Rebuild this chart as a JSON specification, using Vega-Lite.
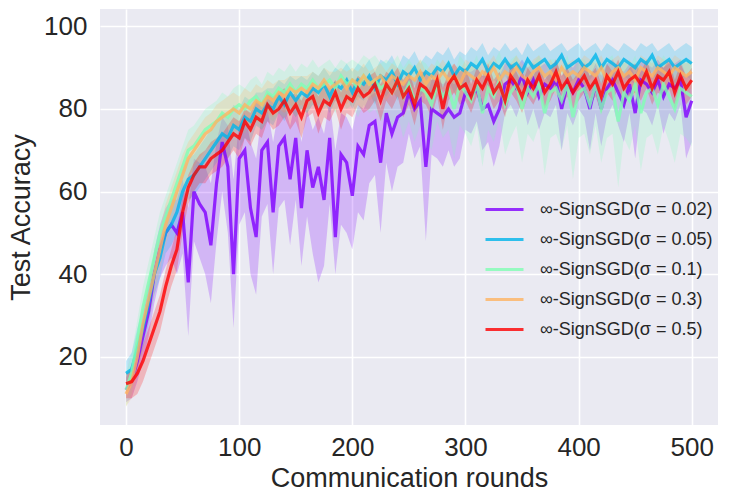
{
  "$schema": "https://vega.github.io/schema/vega-lite/v6.json",
  "autosize": {"type": "none"},
  "width": 618,
  "height": 416,
  "padding": {"left": 100, "top": 9, "right": 18, "bottom": 77},
  "background": "white",
  "config": {
    "view": {"fill": "#EAEAF2", "stroke": null},
    "font": "Liberation Sans",
    "axis": {
      "grid": true,
      "gridColor": "white",
      "gridWidth": 1.6,
      "domain": false,
      "ticks": false,
      "labelFontSize": 26,
      "labelColor": "#262626",
      "titleFontSize": 27,
      "titleFontWeight": "normal",
      "titleColor": "#262626"
    }
  },
  "data": {
    "values": [
      {"s":"0.02","r":0,"y":12,"l":9,"h":15},{"s":"0.02","r":5,"y":14,"l":10,"h":18},{"s":"0.02","r":10,"y":19,"l":14,"h":24},{"s":"0.02","r":15,"y":25,"l":19,"h":30},{"s":"0.02","r":20,"y":31,"l":25,"h":37},{"s":"0.02","r":25,"y":40,"l":33,"h":46},{"s":"0.02","r":30,"y":46,"l":39,"h":52},{"s":"0.02","r":35,"y":50,"l":42,"h":56},{"s":"0.02","r":40,"y":52,"l":44,"h":58},{"s":"0.02","r":45,"y":50,"l":40,"h":58},
      {"s":"0.02","r":50,"y":55,"l":45,"h":63},{"s":"0.02","r":55,"y":38,"l":25,"h":56},{"s":"0.02","r":60,"y":60,"l":48,"h":68},{"s":"0.02","r":65,"y":57,"l":44,"h":67},{"s":"0.02","r":70,"y":55,"l":40,"h":66},{"s":"0.02","r":75,"y":47,"l":33,"h":62},{"s":"0.02","r":80,"y":62,"l":48,"h":72},{"s":"0.02","r":85,"y":72,"l":60,"h":78},{"s":"0.02","r":90,"y":66,"l":50,"h":76},{"s":"0.02","r":95,"y":40,"l":27,"h":63},
      {"s":"0.02","r":100,"y":68,"l":52,"h":77},{"s":"0.02","r":105,"y":70,"l":55,"h":79},{"s":"0.02","r":110,"y":56,"l":40,"h":72},{"s":"0.02","r":115,"y":49,"l":35,"h":68},{"s":"0.02","r":120,"y":70,"l":54,"h":79},{"s":"0.02","r":125,"y":72,"l":57,"h":80},{"s":"0.02","r":130,"y":55,"l":40,"h":72},{"s":"0.02","r":135,"y":71,"l":56,"h":80},{"s":"0.02","r":140,"y":73,"l":58,"h":81},{"s":"0.02","r":145,"y":63,"l":47,"h":76},
      {"s":"0.02","r":150,"y":73,"l":58,"h":82},{"s":"0.02","r":155,"y":56,"l":42,"h":72},{"s":"0.02","r":160,"y":70,"l":54,"h":80},{"s":"0.02","r":165,"y":61,"l":45,"h":75},{"s":"0.02","r":170,"y":66,"l":38,"h":78},{"s":"0.02","r":175,"y":58,"l":42,"h":74},{"s":"0.02","r":180,"y":73,"l":57,"h":82},{"s":"0.02","r":185,"y":49,"l":40,"h":70},{"s":"0.02","r":190,"y":69,"l":52,"h":79},{"s":"0.02","r":195,"y":67,"l":50,"h":78},
      {"s":"0.02","r":200,"y":59,"l":46,"h":75},{"s":"0.02","r":205,"y":71,"l":55,"h":81},{"s":"0.02","r":210,"y":69,"l":53,"h":80},{"s":"0.02","r":215,"y":76,"l":62,"h":83},{"s":"0.02","r":220,"y":77,"l":64,"h":84},{"s":"0.02","r":225,"y":67,"l":50,"h":80},{"s":"0.02","r":230,"y":79,"l":67,"h":85},{"s":"0.02","r":235,"y":74,"l":60,"h":83},{"s":"0.02","r":240,"y":78,"l":66,"h":85},{"s":"0.02","r":245,"y":79,"l":67,"h":86},
      {"s":"0.02","r":250,"y":84,"l":74,"h":88},{"s":"0.02","r":255,"y":80,"l":68,"h":87},{"s":"0.02","r":260,"y":82,"l":71,"h":88},{"s":"0.02","r":265,"y":66,"l":48,"h":82},{"s":"0.02","r":270,"y":80,"l":69,"h":87},{"s":"0.02","r":275,"y":79,"l":68,"h":87},{"s":"0.02","r":280,"y":78,"l":66,"h":86},{"s":"0.02","r":285,"y":80,"l":70,"h":87},{"s":"0.02","r":290,"y":78,"l":66,"h":86},{"s":"0.02","r":295,"y":79,"l":68,"h":87},
      {"s":"0.02","r":300,"y":84,"l":75,"h":89},{"s":"0.02","r":305,"y":83,"l":74,"h":89},{"s":"0.02","r":310,"y":85,"l":77,"h":90},{"s":"0.02","r":315,"y":80,"l":70,"h":88},{"s":"0.02","r":320,"y":81,"l":72,"h":88},{"s":"0.02","r":325,"y":77,"l":66,"h":86},{"s":"0.02","r":330,"y":80,"l":71,"h":88},{"s":"0.02","r":335,"y":86,"l":79,"h":91},{"s":"0.02","r":340,"y":87,"l":81,"h":91},{"s":"0.02","r":345,"y":85,"l":78,"h":90},
      {"s":"0.02","r":350,"y":88,"l":82,"h":92},{"s":"0.02","r":355,"y":84,"l":76,"h":90},{"s":"0.02","r":360,"y":87,"l":80,"h":91},{"s":"0.02","r":365,"y":83,"l":75,"h":90},{"s":"0.02","r":370,"y":86,"l":79,"h":91},{"s":"0.02","r":375,"y":85,"l":78,"h":90},{"s":"0.02","r":380,"y":87,"l":81,"h":92},{"s":"0.02","r":385,"y":80,"l":70,"h":88},{"s":"0.02","r":390,"y":86,"l":79,"h":91},{"s":"0.02","r":395,"y":84,"l":76,"h":90},
      {"s":"0.02","r":400,"y":87,"l":80,"h":92},{"s":"0.02","r":405,"y":85,"l":78,"h":91},{"s":"0.02","r":410,"y":80,"l":70,"h":88},{"s":"0.02","r":415,"y":86,"l":79,"h":91},{"s":"0.02","r":420,"y":80,"l":71,"h":88},{"s":"0.02","r":425,"y":85,"l":78,"h":91},{"s":"0.02","r":430,"y":87,"l":81,"h":92},{"s":"0.02","r":435,"y":84,"l":76,"h":90},{"s":"0.02","r":440,"y":81,"l":72,"h":89},{"s":"0.02","r":445,"y":86,"l":79,"h":91},
      {"s":"0.02","r":450,"y":79,"l":68,"h":88},{"s":"0.02","r":455,"y":87,"l":80,"h":92},{"s":"0.02","r":460,"y":86,"l":79,"h":91},{"s":"0.02","r":465,"y":84,"l":76,"h":90},{"s":"0.02","r":470,"y":87,"l":81,"h":92},{"s":"0.02","r":475,"y":83,"l":74,"h":90},{"s":"0.02","r":480,"y":86,"l":79,"h":91},{"s":"0.02","r":485,"y":85,"l":77,"h":91},{"s":"0.02","r":490,"y":87,"l":81,"h":92},{"s":"0.02","r":495,"y":78,"l":68,"h":88},{"s":"0.02","r":500,"y":82,"l":72,"h":89},

      {"s":"0.05","r":0,"y":16,"l":13,"h":19},{"s":"0.05","r":5,"y":17,"l":13,"h":21},{"s":"0.05","r":10,"y":22,"l":17,"h":27},{"s":"0.05","r":15,"y":27,"l":22,"h":32},{"s":"0.05","r":20,"y":33,"l":28,"h":38},{"s":"0.05","r":25,"y":40,"l":35,"h":45},{"s":"0.05","r":30,"y":44,"l":39,"h":49},{"s":"0.05","r":35,"y":50,"l":45,"h":55},{"s":"0.05","r":40,"y":52,"l":47,"h":57},{"s":"0.05","r":45,"y":55,"l":50,"h":60},
      {"s":"0.05","r":50,"y":60,"l":55,"h":65},{"s":"0.05","r":55,"y":63,"l":58,"h":68},{"s":"0.05","r":60,"y":64,"l":59,"h":69},{"s":"0.05","r":65,"y":66,"l":61,"h":71},{"s":"0.05","r":70,"y":68,"l":63,"h":73},{"s":"0.05","r":75,"y":70,"l":65,"h":75},{"s":"0.05","r":80,"y":72,"l":67,"h":77},{"s":"0.05","r":85,"y":74,"l":69,"h":79},{"s":"0.05","r":90,"y":73,"l":68,"h":78},{"s":"0.05","r":95,"y":76,"l":71,"h":81},
      {"s":"0.05","r":100,"y":75,"l":70,"h":80},{"s":"0.05","r":105,"y":78,"l":73,"h":83},{"s":"0.05","r":110,"y":77,"l":72,"h":82},{"s":"0.05","r":115,"y":80,"l":76,"h":84},{"s":"0.05","r":120,"y":79,"l":75,"h":84},{"s":"0.05","r":125,"y":81,"l":77,"h":85},{"s":"0.05","r":130,"y":80,"l":76,"h":85},{"s":"0.05","r":135,"y":83,"l":79,"h":87},{"s":"0.05","r":140,"y":81,"l":77,"h":86},{"s":"0.05","r":145,"y":84,"l":80,"h":88},
      {"s":"0.05","r":150,"y":82,"l":78,"h":87},{"s":"0.05","r":155,"y":84,"l":80,"h":88},{"s":"0.05","r":160,"y":83,"l":79,"h":87},{"s":"0.05","r":165,"y":85,"l":81,"h":89},{"s":"0.05","r":170,"y":84,"l":80,"h":88},{"s":"0.05","r":175,"y":86,"l":82,"h":90},{"s":"0.05","r":180,"y":83,"l":79,"h":88},{"s":"0.05","r":185,"y":86,"l":82,"h":90},{"s":"0.05","r":190,"y":85,"l":81,"h":89},{"s":"0.05","r":195,"y":87,"l":83,"h":91},
      {"s":"0.05","r":200,"y":84,"l":80,"h":89},{"s":"0.05","r":205,"y":87,"l":83,"h":91},{"s":"0.05","r":210,"y":86,"l":82,"h":90},{"s":"0.05","r":215,"y":88,"l":84,"h":92},{"s":"0.05","r":220,"y":85,"l":81,"h":89},{"s":"0.05","r":225,"y":88,"l":84,"h":92},{"s":"0.05","r":230,"y":87,"l":83,"h":91},{"s":"0.05","r":235,"y":89,"l":85,"h":93},{"s":"0.05","r":240,"y":86,"l":82,"h":90},{"s":"0.05","r":245,"y":89,"l":85,"h":93},
      {"s":"0.05","r":250,"y":88,"l":84,"h":92},{"s":"0.05","r":255,"y":90,"l":86,"h":94},{"s":"0.05","r":260,"y":87,"l":83,"h":91},{"s":"0.05","r":265,"y":89,"l":85,"h":93},{"s":"0.05","r":270,"y":88,"l":84,"h":92},{"s":"0.05","r":275,"y":90,"l":86,"h":94},{"s":"0.05","r":280,"y":89,"l":85,"h":93},{"s":"0.05","r":285,"y":91,"l":87,"h":95},{"s":"0.05","r":290,"y":88,"l":84,"h":92},{"s":"0.05","r":295,"y":90,"l":86,"h":94},
      {"s":"0.05","r":300,"y":89,"l":85,"h":93},{"s":"0.05","r":305,"y":91,"l":87,"h":95},{"s":"0.05","r":310,"y":90,"l":86,"h":94},{"s":"0.05","r":315,"y":92,"l":88,"h":96},{"s":"0.05","r":320,"y":89,"l":85,"h":93},{"s":"0.05","r":325,"y":91,"l":87,"h":95},{"s":"0.05","r":330,"y":90,"l":86,"h":94},{"s":"0.05","r":335,"y":92,"l":88,"h":96},{"s":"0.05","r":340,"y":90,"l":86,"h":94},{"s":"0.05","r":345,"y":91,"l":87,"h":95},
      {"s":"0.05","r":350,"y":89,"l":85,"h":93},{"s":"0.05","r":355,"y":92,"l":88,"h":96},{"s":"0.05","r":360,"y":90,"l":86,"h":94},{"s":"0.05","r":365,"y":91,"l":87,"h":95},{"s":"0.05","r":370,"y":92,"l":88,"h":96},{"s":"0.05","r":375,"y":90,"l":86,"h":94},{"s":"0.05","r":380,"y":91,"l":87,"h":95},{"s":"0.05","r":385,"y":93,"l":89,"h":96},{"s":"0.05","r":390,"y":90,"l":86,"h":94},{"s":"0.05","r":395,"y":91,"l":87,"h":95},
      {"s":"0.05","r":400,"y":92,"l":88,"h":96},{"s":"0.05","r":405,"y":90,"l":86,"h":94},{"s":"0.05","r":410,"y":91,"l":87,"h":95},{"s":"0.05","r":415,"y":93,"l":89,"h":96},{"s":"0.05","r":420,"y":90,"l":86,"h":94},{"s":"0.05","r":425,"y":92,"l":88,"h":96},{"s":"0.05","r":430,"y":91,"l":87,"h":95},{"s":"0.05","r":435,"y":90,"l":86,"h":94},{"s":"0.05","r":440,"y":92,"l":88,"h":96},{"s":"0.05","r":445,"y":91,"l":87,"h":95},
      {"s":"0.05","r":450,"y":90,"l":86,"h":94},{"s":"0.05","r":455,"y":92,"l":88,"h":96},{"s":"0.05","r":460,"y":91,"l":87,"h":95},{"s":"0.05","r":465,"y":93,"l":89,"h":96},{"s":"0.05","r":470,"y":90,"l":86,"h":94},{"s":"0.05","r":475,"y":91,"l":87,"h":95},{"s":"0.05","r":480,"y":92,"l":88,"h":96},{"s":"0.05","r":485,"y":90,"l":86,"h":94},{"s":"0.05","r":490,"y":91,"l":87,"h":95},{"s":"0.05","r":495,"y":92,"l":88,"h":96},{"s":"0.05","r":500,"y":91,"l":87,"h":95},

      {"s":"0.1","r":0,"y":12,"l":8,"h":16},{"s":"0.1","r":5,"y":16,"l":11,"h":21},{"s":"0.1","r":10,"y":24,"l":19,"h":29},{"s":"0.1","r":15,"y":32,"l":27,"h":37},{"s":"0.1","r":20,"y":38,"l":33,"h":43},{"s":"0.1","r":25,"y":44,"l":39,"h":49},{"s":"0.1","r":30,"y":50,"l":45,"h":55},{"s":"0.1","r":35,"y":54,"l":49,"h":59},{"s":"0.1","r":40,"y":58,"l":53,"h":63},{"s":"0.1","r":45,"y":62,"l":57,"h":67},
      {"s":"0.1","r":50,"y":66,"l":61,"h":71},{"s":"0.1","r":55,"y":70,"l":64,"h":75},{"s":"0.1","r":60,"y":71,"l":65,"h":76},{"s":"0.1","r":65,"y":73,"l":67,"h":78},{"s":"0.1","r":70,"y":75,"l":69,"h":80},{"s":"0.1","r":75,"y":76,"l":70,"h":81},{"s":"0.1","r":80,"y":77,"l":71,"h":82},{"s":"0.1","r":85,"y":79,"l":73,"h":84},{"s":"0.1","r":90,"y":78,"l":72,"h":83},{"s":"0.1","r":95,"y":80,"l":74,"h":85},
      {"s":"0.1","r":100,"y":81,"l":75,"h":86},{"s":"0.1","r":105,"y":80,"l":74,"h":85},{"s":"0.1","r":110,"y":82,"l":76,"h":87},{"s":"0.1","r":115,"y":83,"l":77,"h":88},{"s":"0.1","r":120,"y":81,"l":75,"h":86},{"s":"0.1","r":125,"y":84,"l":78,"h":89},{"s":"0.1","r":130,"y":83,"l":77,"h":88},{"s":"0.1","r":135,"y":85,"l":79,"h":90},{"s":"0.1","r":140,"y":84,"l":78,"h":89},{"s":"0.1","r":145,"y":86,"l":80,"h":91},
      {"s":"0.1","r":150,"y":84,"l":78,"h":89},{"s":"0.1","r":155,"y":86,"l":80,"h":91},{"s":"0.1","r":160,"y":85,"l":79,"h":90},{"s":"0.1","r":165,"y":87,"l":81,"h":92},{"s":"0.1","r":170,"y":85,"l":79,"h":90},{"s":"0.1","r":175,"y":86,"l":80,"h":91},{"s":"0.1","r":180,"y":87,"l":81,"h":92},{"s":"0.1","r":185,"y":85,"l":79,"h":90},{"s":"0.1","r":190,"y":88,"l":82,"h":92},{"s":"0.1","r":195,"y":86,"l":80,"h":91},
      {"s":"0.1","r":200,"y":87,"l":81,"h":92},{"s":"0.1","r":205,"y":85,"l":78,"h":91},{"s":"0.1","r":210,"y":88,"l":81,"h":93},{"s":"0.1","r":215,"y":86,"l":79,"h":92},{"s":"0.1","r":220,"y":87,"l":80,"h":93},{"s":"0.1","r":225,"y":85,"l":77,"h":91},{"s":"0.1","r":230,"y":86,"l":78,"h":92},{"s":"0.1","r":235,"y":84,"l":75,"h":91},{"s":"0.1","r":240,"y":87,"l":79,"h":93},{"s":"0.1","r":245,"y":83,"l":73,"h":90},
      {"s":"0.1","r":250,"y":86,"l":77,"h":92},{"s":"0.1","r":255,"y":82,"l":72,"h":90},{"s":"0.1","r":260,"y":85,"l":76,"h":92},{"s":"0.1","r":265,"y":84,"l":74,"h":91},{"s":"0.1","r":270,"y":81,"l":70,"h":89},{"s":"0.1","r":275,"y":86,"l":77,"h":92},{"s":"0.1","r":280,"y":83,"l":73,"h":90},{"s":"0.1","r":285,"y":85,"l":75,"h":92},{"s":"0.1","r":290,"y":80,"l":68,"h":88},{"s":"0.1","r":295,"y":86,"l":76,"h":93},
      {"s":"0.1","r":300,"y":84,"l":74,"h":91},{"s":"0.1","r":305,"y":82,"l":71,"h":90},{"s":"0.1","r":310,"y":86,"l":76,"h":93},{"s":"0.1","r":315,"y":79,"l":66,"h":88},{"s":"0.1","r":320,"y":85,"l":75,"h":92},{"s":"0.1","r":325,"y":83,"l":72,"h":91},{"s":"0.1","r":330,"y":87,"l":78,"h":94},{"s":"0.1","r":335,"y":81,"l":69,"h":89},{"s":"0.1","r":340,"y":84,"l":73,"h":92},{"s":"0.1","r":345,"y":86,"l":76,"h":93},
      {"s":"0.1","r":350,"y":80,"l":67,"h":89},{"s":"0.1","r":355,"y":85,"l":74,"h":92},{"s":"0.1","r":360,"y":83,"l":72,"h":91},{"s":"0.1","r":365,"y":86,"l":76,"h":93},{"s":"0.1","r":370,"y":79,"l":64,"h":88},{"s":"0.1","r":375,"y":84,"l":73,"h":92},{"s":"0.1","r":380,"y":85,"l":74,"h":92},{"s":"0.1","r":385,"y":82,"l":70,"h":90},{"s":"0.1","r":390,"y":86,"l":76,"h":93},{"s":"0.1","r":395,"y":78,"l":63,"h":88},
      {"s":"0.1","r":400,"y":84,"l":73,"h":92},{"s":"0.1","r":405,"y":85,"l":74,"h":92},{"s":"0.1","r":410,"y":81,"l":69,"h":90},{"s":"0.1","r":415,"y":86,"l":76,"h":93},{"s":"0.1","r":420,"y":80,"l":67,"h":89},{"s":"0.1","r":425,"y":84,"l":73,"h":92},{"s":"0.1","r":430,"y":85,"l":74,"h":93},{"s":"0.1","r":435,"y":77,"l":61,"h":87},{"s":"0.1","r":440,"y":84,"l":73,"h":92},{"s":"0.1","r":445,"y":82,"l":70,"h":90},
      {"s":"0.1","r":450,"y":86,"l":76,"h":93},{"s":"0.1","r":455,"y":79,"l":65,"h":88},{"s":"0.1","r":460,"y":84,"l":73,"h":92},{"s":"0.1","r":465,"y":85,"l":74,"h":93},{"s":"0.1","r":470,"y":81,"l":69,"h":90},{"s":"0.1","r":475,"y":86,"l":76,"h":93},{"s":"0.1","r":480,"y":83,"l":72,"h":91},{"s":"0.1","r":485,"y":80,"l":67,"h":89},{"s":"0.1","r":490,"y":85,"l":74,"h":92},{"s":"0.1","r":495,"y":84,"l":73,"h":92},{"s":"0.1","r":500,"y":83,"l":71,"h":91},

      {"s":"0.3","r":0,"y":11,"l":8,"h":14},{"s":"0.3","r":5,"y":14,"l":10,"h":18},{"s":"0.3","r":10,"y":20,"l":15,"h":25},{"s":"0.3","r":15,"y":28,"l":23,"h":33},{"s":"0.3","r":20,"y":34,"l":29,"h":39},{"s":"0.3","r":25,"y":40,"l":35,"h":45},{"s":"0.3","r":30,"y":46,"l":41,"h":51},{"s":"0.3","r":35,"y":52,"l":47,"h":57},{"s":"0.3","r":40,"y":56,"l":51,"h":61},{"s":"0.3","r":45,"y":60,"l":55,"h":65},
      {"s":"0.3","r":50,"y":64,"l":59,"h":69},{"s":"0.3","r":55,"y":68,"l":63,"h":72},{"s":"0.3","r":60,"y":70,"l":66,"h":74},{"s":"0.3","r":65,"y":72,"l":68,"h":76},{"s":"0.3","r":70,"y":74,"l":70,"h":78},{"s":"0.3","r":75,"y":75,"l":71,"h":79},{"s":"0.3","r":80,"y":77,"l":73,"h":81},{"s":"0.3","r":85,"y":78,"l":74,"h":82},{"s":"0.3","r":90,"y":79,"l":75,"h":83},{"s":"0.3","r":95,"y":80,"l":76,"h":84},
      {"s":"0.3","r":100,"y":79,"l":75,"h":83},{"s":"0.3","r":105,"y":81,"l":77,"h":85},{"s":"0.3","r":110,"y":80,"l":76,"h":84},{"s":"0.3","r":115,"y":82,"l":78,"h":86},{"s":"0.3","r":120,"y":81,"l":77,"h":85},{"s":"0.3","r":125,"y":83,"l":79,"h":87},{"s":"0.3","r":130,"y":82,"l":78,"h":86},{"s":"0.3","r":135,"y":84,"l":80,"h":87},{"s":"0.3","r":140,"y":83,"l":79,"h":87},{"s":"0.3","r":145,"y":85,"l":81,"h":88},
      {"s":"0.3","r":150,"y":84,"l":80,"h":88},{"s":"0.3","r":155,"y":85,"l":81,"h":88},{"s":"0.3","r":160,"y":84,"l":80,"h":88},{"s":"0.3","r":165,"y":86,"l":82,"h":89},{"s":"0.3","r":170,"y":85,"l":81,"h":88},{"s":"0.3","r":175,"y":87,"l":83,"h":90},{"s":"0.3","r":180,"y":85,"l":81,"h":89},{"s":"0.3","r":185,"y":86,"l":82,"h":89},{"s":"0.3","r":190,"y":87,"l":83,"h":90},{"s":"0.3","r":195,"y":85,"l":81,"h":89},
      {"s":"0.3","r":200,"y":87,"l":83,"h":90},{"s":"0.3","r":205,"y":86,"l":82,"h":89},{"s":"0.3","r":210,"y":88,"l":84,"h":91},{"s":"0.3","r":215,"y":86,"l":82,"h":89},{"s":"0.3","r":220,"y":87,"l":83,"h":90},{"s":"0.3","r":225,"y":88,"l":84,"h":91},{"s":"0.3","r":230,"y":86,"l":82,"h":89},{"s":"0.3","r":235,"y":88,"l":84,"h":91},{"s":"0.3","r":240,"y":87,"l":83,"h":90},{"s":"0.3","r":245,"y":86,"l":82,"h":89},
      {"s":"0.3","r":250,"y":88,"l":84,"h":91},{"s":"0.3","r":255,"y":87,"l":83,"h":90},{"s":"0.3","r":260,"y":89,"l":85,"h":92},{"s":"0.3","r":265,"y":86,"l":82,"h":89},{"s":"0.3","r":270,"y":88,"l":84,"h":91},{"s":"0.3","r":275,"y":87,"l":83,"h":90},{"s":"0.3","r":280,"y":89,"l":85,"h":92},{"s":"0.3","r":285,"y":87,"l":83,"h":90},{"s":"0.3","r":290,"y":88,"l":84,"h":91},{"s":"0.3","r":295,"y":86,"l":82,"h":89},
      {"s":"0.3","r":300,"y":89,"l":85,"h":92},{"s":"0.3","r":305,"y":88,"l":84,"h":91},{"s":"0.3","r":310,"y":87,"l":83,"h":90},{"s":"0.3","r":315,"y":89,"l":85,"h":92},{"s":"0.3","r":320,"y":88,"l":84,"h":91},{"s":"0.3","r":325,"y":90,"l":86,"h":93},{"s":"0.3","r":330,"y":87,"l":83,"h":90},{"s":"0.3","r":335,"y":89,"l":85,"h":92},{"s":"0.3","r":340,"y":88,"l":84,"h":91},{"s":"0.3","r":345,"y":90,"l":86,"h":93},
      {"s":"0.3","r":350,"y":88,"l":84,"h":91},{"s":"0.3","r":355,"y":87,"l":83,"h":90},{"s":"0.3","r":360,"y":89,"l":85,"h":92},{"s":"0.3","r":365,"y":90,"l":86,"h":93},{"s":"0.3","r":370,"y":88,"l":84,"h":91},{"s":"0.3","r":375,"y":89,"l":85,"h":92},{"s":"0.3","r":380,"y":87,"l":83,"h":90},{"s":"0.3","r":385,"y":90,"l":86,"h":93},{"s":"0.3","r":390,"y":88,"l":84,"h":91},{"s":"0.3","r":395,"y":89,"l":85,"h":92},
      {"s":"0.3","r":400,"y":88,"l":84,"h":91},{"s":"0.3","r":405,"y":90,"l":86,"h":93},{"s":"0.3","r":410,"y":89,"l":85,"h":92},{"s":"0.3","r":415,"y":88,"l":84,"h":91},{"s":"0.3","r":420,"y":90,"l":86,"h":93},{"s":"0.3","r":425,"y":87,"l":83,"h":90},{"s":"0.3","r":430,"y":89,"l":85,"h":92},{"s":"0.3","r":435,"y":90,"l":86,"h":93},{"s":"0.3","r":440,"y":88,"l":84,"h":91},{"s":"0.3","r":445,"y":89,"l":85,"h":92},
      {"s":"0.3","r":450,"y":87,"l":83,"h":90},{"s":"0.3","r":455,"y":90,"l":86,"h":93},{"s":"0.3","r":460,"y":89,"l":85,"h":92},{"s":"0.3","r":465,"y":88,"l":84,"h":91},{"s":"0.3","r":470,"y":90,"l":86,"h":93},{"s":"0.3","r":475,"y":89,"l":85,"h":92},{"s":"0.3","r":480,"y":88,"l":84,"h":91},{"s":"0.3","r":485,"y":90,"l":86,"h":93},{"s":"0.3","r":490,"y":89,"l":85,"h":92},{"s":"0.3","r":495,"y":88,"l":84,"h":91},{"s":"0.3","r":500,"y":89,"l":85,"h":92},

      {"s":"0.5","r":0,"y":13.5,"l":10,"h":16},{"s":"0.5","r":5,"y":14,"l":10,"h":17},{"s":"0.5","r":10,"y":16,"l":11,"h":19},{"s":"0.5","r":15,"y":19,"l":14,"h":23},{"s":"0.5","r":20,"y":23,"l":18,"h":27},{"s":"0.5","r":25,"y":27,"l":22,"h":31},{"s":"0.5","r":30,"y":31,"l":26,"h":35},{"s":"0.5","r":35,"y":37,"l":32,"h":41},{"s":"0.5","r":40,"y":42,"l":37,"h":46},{"s":"0.5","r":45,"y":46,"l":41,"h":51},
      {"s":"0.5","r":50,"y":55,"l":50,"h":59},{"s":"0.5","r":55,"y":61,"l":57,"h":64},{"s":"0.5","r":60,"y":64,"l":60,"h":67},{"s":"0.5","r":65,"y":66,"l":62,"h":69},{"s":"0.5","r":70,"y":66,"l":62,"h":70},{"s":"0.5","r":75,"y":68,"l":64,"h":72},{"s":"0.5","r":80,"y":69,"l":65,"h":73},{"s":"0.5","r":85,"y":70,"l":66,"h":74},{"s":"0.5","r":90,"y":72,"l":68,"h":76},{"s":"0.5","r":95,"y":74,"l":70,"h":78},
      {"s":"0.5","r":100,"y":73,"l":68,"h":77},{"s":"0.5","r":105,"y":77,"l":73,"h":80},{"s":"0.5","r":110,"y":75,"l":71,"h":79},{"s":"0.5","r":115,"y":78,"l":74,"h":82},{"s":"0.5","r":120,"y":77,"l":73,"h":81},{"s":"0.5","r":125,"y":81,"l":77,"h":84},{"s":"0.5","r":130,"y":79,"l":75,"h":83},{"s":"0.5","r":135,"y":80,"l":76,"h":84},{"s":"0.5","r":140,"y":82,"l":78,"h":85},{"s":"0.5","r":145,"y":79,"l":75,"h":83},
      {"s":"0.5","r":150,"y":81,"l":77,"h":84},{"s":"0.5","r":155,"y":78,"l":73,"h":82},{"s":"0.5","r":160,"y":82,"l":78,"h":85},{"s":"0.5","r":165,"y":83,"l":79,"h":86},{"s":"0.5","r":170,"y":79,"l":74,"h":83},{"s":"0.5","r":175,"y":82,"l":78,"h":86},{"s":"0.5","r":180,"y":81,"l":77,"h":85},{"s":"0.5","r":185,"y":84,"l":80,"h":87},{"s":"0.5","r":190,"y":80,"l":75,"h":84},{"s":"0.5","r":195,"y":83,"l":79,"h":87},
      {"s":"0.5","r":200,"y":82,"l":78,"h":86},{"s":"0.5","r":205,"y":85,"l":81,"h":88},{"s":"0.5","r":210,"y":83,"l":79,"h":87},{"s":"0.5","r":215,"y":84,"l":80,"h":88},{"s":"0.5","r":220,"y":86,"l":82,"h":89},{"s":"0.5","r":225,"y":82,"l":77,"h":86},{"s":"0.5","r":230,"y":86,"l":82,"h":89},{"s":"0.5","r":235,"y":84,"l":80,"h":88},{"s":"0.5","r":240,"y":87,"l":83,"h":90},{"s":"0.5","r":245,"y":83,"l":78,"h":87},
      {"s":"0.5","r":250,"y":85,"l":81,"h":89},{"s":"0.5","r":255,"y":81,"l":76,"h":85},{"s":"0.5","r":260,"y":86,"l":82,"h":89},{"s":"0.5","r":265,"y":85,"l":81,"h":89},{"s":"0.5","r":270,"y":83,"l":78,"h":87},{"s":"0.5","r":275,"y":87,"l":83,"h":90},{"s":"0.5","r":280,"y":80,"l":75,"h":85},{"s":"0.5","r":285,"y":86,"l":82,"h":89},{"s":"0.5","r":290,"y":88,"l":84,"h":91},{"s":"0.5","r":295,"y":85,"l":81,"h":89},
      {"s":"0.5","r":300,"y":86,"l":82,"h":90},{"s":"0.5","r":305,"y":83,"l":79,"h":86},{"s":"0.5","r":310,"y":87,"l":83,"h":90},{"s":"0.5","r":315,"y":85,"l":81,"h":88},{"s":"0.5","r":320,"y":88,"l":84,"h":91},{"s":"0.5","r":325,"y":84,"l":80,"h":87},{"s":"0.5","r":330,"y":86,"l":82,"h":89},{"s":"0.5","r":335,"y":82,"l":78,"h":85},{"s":"0.5","r":340,"y":88,"l":84,"h":91},{"s":"0.5","r":345,"y":86,"l":82,"h":89},
      {"s":"0.5","r":350,"y":83,"l":79,"h":86},{"s":"0.5","r":355,"y":87,"l":83,"h":90},{"s":"0.5","r":360,"y":85,"l":81,"h":88},{"s":"0.5","r":365,"y":88,"l":84,"h":91},{"s":"0.5","r":370,"y":84,"l":80,"h":87},{"s":"0.5","r":375,"y":86,"l":82,"h":89},{"s":"0.5","r":380,"y":89,"l":85,"h":92},{"s":"0.5","r":385,"y":85,"l":81,"h":88},{"s":"0.5","r":390,"y":87,"l":83,"h":90},{"s":"0.5","r":395,"y":84,"l":80,"h":87},
      {"s":"0.5","r":400,"y":86,"l":82,"h":89},{"s":"0.5","r":405,"y":88,"l":84,"h":91},{"s":"0.5","r":410,"y":85,"l":81,"h":88},{"s":"0.5","r":415,"y":87,"l":83,"h":90},{"s":"0.5","r":420,"y":83,"l":79,"h":86},{"s":"0.5","r":425,"y":88,"l":84,"h":91},{"s":"0.5","r":430,"y":86,"l":82,"h":89},{"s":"0.5","r":435,"y":89,"l":85,"h":92},{"s":"0.5","r":440,"y":85,"l":81,"h":88},{"s":"0.5","r":445,"y":87,"l":83,"h":90},
      {"s":"0.5","r":450,"y":88,"l":84,"h":91},{"s":"0.5","r":455,"y":86,"l":82,"h":89},{"s":"0.5","r":460,"y":89,"l":85,"h":92},{"s":"0.5","r":465,"y":85,"l":81,"h":88},{"s":"0.5","r":470,"y":88,"l":84,"h":91},{"s":"0.5","r":475,"y":87,"l":83,"h":90},{"s":"0.5","r":480,"y":89,"l":85,"h":92},{"s":"0.5","r":485,"y":84,"l":80,"h":87},{"s":"0.5","r":490,"y":88,"l":84,"h":91},{"s":"0.5","r":495,"y":85,"l":81,"h":88},{"s":"0.5","r":500,"y":87,"l":83,"h":90}
    ]
  },
  "encoding": {
    "x": {
      "field": "r",
      "type": "quantitative",
      "scale": {"domain": [-23, 523.2], "nice": false, "zero": false},
      "axis": {"values": [0, 100, 200, 300, 400, 500], "title": "Communication rounds", "labelPadding": 9, "titlePadding": 5}
    },
    "color": {
      "field": "s",
      "type": "nominal",
      "sort": ["0.02", "0.05", "0.1", "0.3", "0.5"],
      "scale": {"domain": ["0.02", "0.05", "0.1", "0.3", "0.5"], "range": ["#8000FF", "#00B5EB", "#80FFB4", "#FFB462", "#FF0000"]},
      "legend": {
        "orient": "none",
        "legendX": 384,
        "legendY": 180,
        "title": null,
        "padding": 0,
        "symbolType": "stroke",
        "symbolSize": 1444,
        "symbolStrokeWidth": 3,
        "symbolOpacity": 0.8,
        "labelFontSize": 18,
        "labelLimit": 400,
        "labelColor": "#262626",
        "labelOffset": 15,
        "rowPadding": -10,
        "labelExpr": "'∞-SignSGD(σ = ' + datum.label + ')'"
      }
    }
  },
  "layer": [
    {
      "mark": {"type": "area", "opacity": 0.22},
      "encoding": {
        "y": {
          "field": "l",
          "type": "quantitative",
          "scale": {"domain": [3.5, 104.2], "nice": false, "zero": false},
          "axis": {"values": [20, 40, 60, 80, 100], "title": "Test Accuracy", "labelPadding": 13, "titlePadding": 8}
        },
        "y2": {"field": "h"}
      }
    },
    {
      "mark": {"type": "line", "strokeWidth": 3.2, "opacity": 0.8},
      "encoding": {
        "y": {"field": "y", "type": "quantitative"}
      }
    }
  ]
}
